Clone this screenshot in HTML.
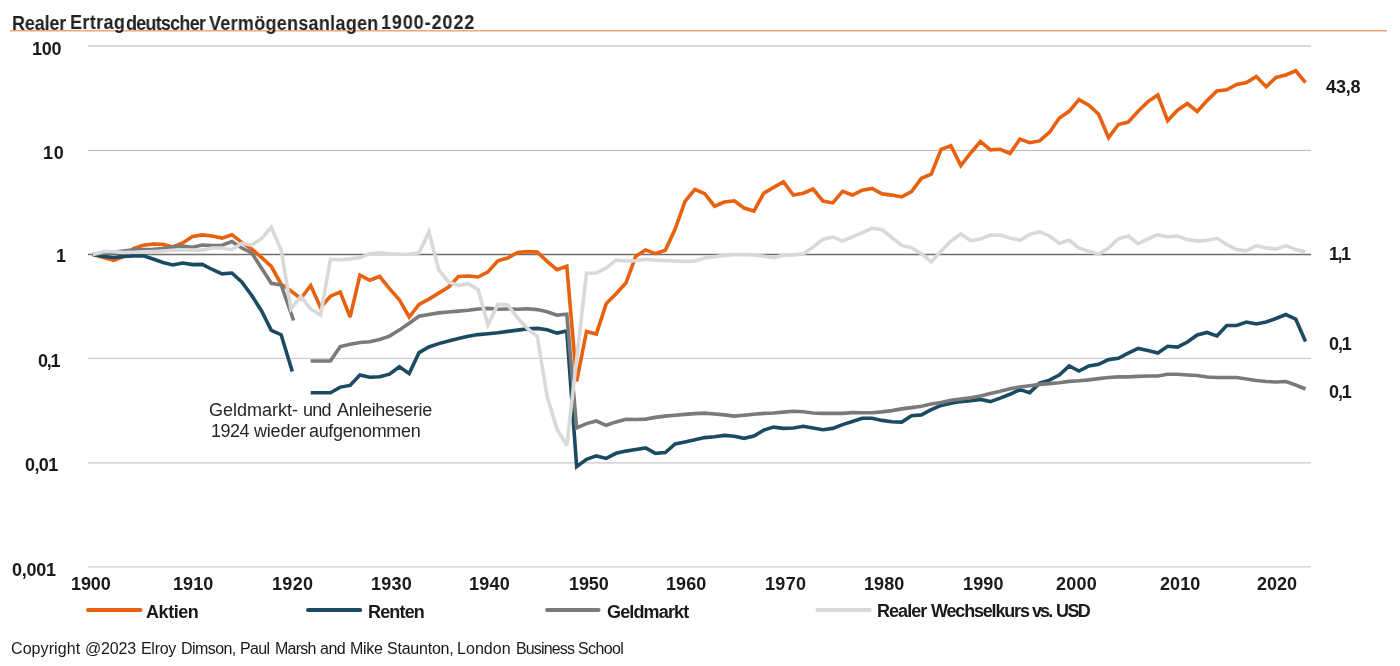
<!DOCTYPE html>
<html><head><meta charset="utf-8">
<style>
html,body{margin:0;padding:0;background:#fff;}
body{width:1400px;height:666px;position:relative;overflow:hidden;font-family:"Liberation Sans",sans-serif;color:#1a1a1a;}
.t{position:absolute;white-space:nowrap;line-height:1;will-change:transform;}
.b{font-weight:bold;}
svg{position:absolute;left:0;top:0;}
</style></head><body>
<svg width="1400" height="666" viewBox="0 0 1400 666">
<line x1="10" y1="30.7" x2="1387" y2="30.7" stroke="#f4a57a" stroke-width="1.4"/>
<line x1="88" y1="46" x2="1311" y2="46" stroke="#d9d9d9" stroke-width="2"/>
<line x1="88" y1="150.4" x2="1311" y2="150.4" stroke="#b8b8b8" stroke-width="1"/>
<line x1="88" y1="254.5" x2="1311" y2="254.5" stroke="#6e6e6e" stroke-width="1.3"/>
<line x1="88" y1="358.4" x2="1311" y2="358.4" stroke="#c4c4c4" stroke-width="1"/>
<line x1="88" y1="462.8" x2="1311" y2="462.8" stroke="#c8c8c8" stroke-width="1.2"/>
<line x1="88" y1="566.8" x2="1311" y2="566.8" stroke="#d0d0d0" stroke-width="1.2"/>

<polyline points="92.80,254.40 103.85,257.50 113.70,260.30 123.55,256.70 133.40,248.50 143.25,245.30 153.10,244.00 162.95,244.40 172.80,247.00 182.65,243.00 192.50,236.50 202.35,234.90 212.20,236.00 222.05,238.10 231.90,234.70 241.75,242.40 251.60,248.90 261.45,257.40 271.30,266.50 281.15,284.10 291.00,291.00 300.85,298.50 310.70,285.50 320.55,307.50 330.40,296.20 340.25,292.20 350.10,317.00 359.95,275.20 369.80,280.30 379.65,276.50 389.50,288.60 399.35,299.70 409.20,317.00 419.05,304.50 428.90,299.10 438.75,293.10 448.60,287.10 458.45,276.50 468.30,276.00 478.15,277.00 488.00,271.90 497.85,260.80 507.70,258.00 517.55,252.50 527.40,251.60 537.25,252.00 547.10,261.40 556.95,269.60 566.80,266.30 576.65,381.40 586.50,331.50 596.35,334.00 606.20,303.60 616.05,293.70 625.90,283.00 635.75,256.30 645.60,249.90 655.45,253.70 665.30,250.20 675.15,229.00 685.00,201.40 694.85,189.40 704.70,193.60 714.55,206.20 724.40,202.00 734.25,200.80 744.10,208.00 753.95,211.00 763.80,193.10 773.65,187.40 783.50,181.80 793.35,195.00 803.20,193.20 813.05,189.00 822.90,201.00 832.75,202.90 842.60,191.40 852.45,195.00 862.30,190.20 872.15,188.40 882.00,193.90 891.85,195.10 901.70,196.90 911.55,191.50 921.40,178.30 931.25,174.10 941.10,149.40 950.95,145.80 960.80,165.60 970.65,153.00 980.50,141.50 990.35,149.90 1000.20,149.30 1010.05,153.50 1019.90,139.10 1029.75,142.70 1039.60,140.90 1049.45,132.40 1059.30,118.00 1069.15,111.30 1079.00,99.60 1088.85,105.20 1098.70,114.20 1108.55,137.70 1118.40,124.50 1128.25,122.10 1138.10,111.20 1147.95,101.60 1157.80,95.00 1167.65,120.70 1177.50,110.20 1187.35,103.60 1197.20,111.50 1207.05,100.60 1216.90,91.00 1226.75,89.80 1236.60,84.40 1246.45,82.60 1256.30,76.60 1266.15,86.80 1276.00,77.40 1285.85,75.00 1295.70,70.80 1305.55,82.70" fill="none" stroke="#e8610e" stroke-width="3.6" stroke-linejoin="miter" stroke-miterlimit="3"/>
<polyline points="92.80,254.40 103.85,256.50 113.70,257.50 123.55,256.40 133.40,256.00 143.25,255.80 153.10,259.00 162.95,262.50 172.80,265.00 182.65,263.00 192.50,264.60 202.35,264.40 212.20,269.50 222.05,273.90 231.90,273.00 241.75,282.00 251.60,295.30 261.45,310.70 271.30,330.40 281.15,334.70 292.3,371.5" fill="none" stroke="#1b4a63" stroke-width="3.6" stroke-linejoin="miter" stroke-miterlimit="3"/>
<polyline points="310.70,392.70 320.55,392.70 330.40,392.70 340.25,387.10 350.10,385.40 359.95,375.10 369.80,377.30 379.65,376.70 389.50,374.20 399.35,366.70 409.20,373.60 419.05,352.60 428.90,347.00 438.75,343.60 448.60,341.00 458.45,338.40 468.30,336.30 478.15,334.60 488.00,333.80 497.85,332.80 507.70,331.40 517.55,330.10 527.40,328.90 537.25,328.40 547.10,329.70 556.95,333.10 566.80,331.00 576.65,466.60 586.50,459.30 596.35,455.90 606.20,458.40 616.05,453.30 625.90,451.10 635.75,449.50 645.60,447.90 655.45,453.40 665.30,452.60 675.15,444.00 685.00,441.90 694.85,439.70 704.70,437.60 714.55,436.70 724.40,435.40 734.25,436.30 744.10,438.30 753.95,436.10 763.80,430.10 773.65,427.10 783.50,428.40 793.35,428.00 803.20,426.30 813.05,428.00 822.90,429.70 832.75,428.40 842.60,424.60 852.45,421.50 862.30,418.30 872.15,418.30 882.00,420.40 891.85,421.70 901.70,422.10 911.55,415.70 921.40,414.90 931.25,409.70 941.10,405.40 950.95,403.30 960.80,401.60 970.65,400.70 980.50,399.40 990.35,401.60 1000.20,398.10 1010.05,394.30 1019.90,389.60 1029.75,392.60 1039.60,383.10 1049.45,380.10 1059.30,375.00 1069.15,366.00 1079.00,371.00 1088.85,366.00 1098.70,364.30 1108.55,359.60 1118.40,358.30 1128.25,353.10 1138.10,348.40 1147.95,350.60 1157.80,353.10 1167.65,346.30 1177.50,347.10 1187.35,342.00 1197.20,335.00 1207.05,332.50 1216.90,336.00 1226.75,325.50 1236.60,325.50 1246.45,322.00 1256.30,324.00 1266.15,322.00 1276.00,318.50 1285.85,314.50 1295.70,319.00 1305.55,341.50" fill="none" stroke="#1b4a63" stroke-width="3.6" stroke-linejoin="miter" stroke-miterlimit="3"/>
<polyline points="92.80,254.40 103.85,253.00 113.70,252.00 123.55,251.00 133.40,249.80 143.25,249.50 153.10,249.20 162.95,248.50 172.80,247.00 182.65,246.00 192.50,247.20 202.35,245.00 212.20,245.50 222.05,245.30 231.90,241.60 241.75,248.00 251.60,252.70 261.45,268.00 271.30,283.30 281.15,285.00 293.6,320.5" fill="none" stroke="#7a7a7a" stroke-width="3.6" stroke-linejoin="miter" stroke-miterlimit="3"/>
<polyline points="310.70,361.00 320.55,361.00 330.40,361.00 340.25,346.50 350.10,344.20 359.95,342.50 369.80,341.80 379.65,339.50 389.50,336.10 399.35,330.10 409.20,323.20 419.05,316.30 428.90,314.60 438.75,312.90 448.60,312.00 458.45,311.10 468.30,310.30 478.15,309.00 488.00,308.40 497.85,309.20 507.70,309.00 517.55,309.20 527.40,308.70 537.25,309.60 547.10,311.70 556.95,315.10 566.80,314.30 576.65,427.90 586.50,423.60 596.35,421.00 606.20,425.30 616.05,421.90 625.90,419.30 635.75,419.50 645.60,419.10 655.45,417.40 665.30,416.10 675.15,415.30 685.00,414.40 694.85,413.60 704.70,413.10 714.55,414.00 724.40,414.90 734.25,416.10 744.10,415.20 753.95,414.30 763.80,413.40 773.65,413.00 783.50,412.10 793.35,411.30 803.20,411.70 813.05,413.00 822.90,413.40 832.75,413.40 842.60,413.40 852.45,412.60 862.30,412.70 872.15,412.70 882.00,411.90 891.85,410.60 901.70,408.90 911.55,407.60 921.40,406.30 931.25,404.10 941.10,402.40 950.95,400.30 960.80,399.00 970.65,397.70 980.50,396.00 990.35,393.40 1000.20,391.30 1010.05,388.70 1019.90,387.00 1029.75,385.70 1039.60,384.40 1049.45,383.60 1059.30,382.70 1069.15,381.40 1079.00,380.80 1088.85,379.90 1098.70,378.60 1108.55,377.50 1118.40,376.90 1128.25,376.90 1138.10,376.40 1147.95,376.00 1157.80,376.00 1167.65,374.30 1177.50,374.30 1187.35,375.00 1197.20,375.50 1207.05,377.00 1216.90,377.50 1226.75,377.50 1236.60,377.50 1246.45,379.00 1256.30,380.50 1266.15,381.50 1276.00,382.00 1285.85,381.50 1295.70,385.00 1305.55,389.00" fill="none" stroke="#7a7a7a" stroke-width="3.6" stroke-linejoin="miter" stroke-miterlimit="3"/>
<polyline points="92.80,254.40 103.85,251.50 113.70,251.50 123.55,252.50 133.40,252.20 143.25,251.80 153.10,251.50 162.95,251.00 172.80,250.30 182.65,249.70 192.50,250.10 202.35,250.10 212.20,248.00 222.05,248.00 231.90,249.70 241.75,243.30 251.60,245.00 261.45,238.60 271.30,227.40 281.15,250.00 291.00,309.00 300.85,296.50 310.70,309.00 320.55,315.00 330.40,259.30 340.25,259.70 350.10,258.90 359.95,257.60 369.80,253.70 379.65,252.90 389.50,253.70 399.35,254.30 409.20,254.00 419.05,252.90 428.90,231.90 438.75,270.00 448.60,282.00 458.45,285.40 468.30,283.70 478.15,289.70 488.00,325.00 497.85,304.40 507.70,304.80 517.55,317.80 527.40,328.40 537.25,336.50 547.10,396.20 556.95,429.00 566.80,445.50 576.65,359.00 586.50,273.20 596.35,273.00 606.20,267.90 616.05,260.10 625.90,261.00 635.75,260.60 645.60,259.30 655.45,260.10 665.30,260.60 675.15,261.00 685.00,261.40 694.85,261.00 704.70,258.00 714.55,256.70 724.40,255.40 734.25,254.60 744.10,254.60 753.95,255.00 763.80,256.30 773.65,257.60 783.50,255.20 793.35,254.90 803.20,254.00 813.05,247.10 822.90,239.40 832.75,236.90 842.60,241.10 852.45,236.90 862.30,232.60 872.15,228.30 882.00,229.60 891.85,237.50 901.70,245.40 911.55,247.60 921.40,253.60 931.25,261.70 941.10,251.00 950.95,241.10 960.80,233.90 970.65,240.70 980.50,239.00 990.35,235.10 1000.20,235.10 1010.05,237.90 1019.90,240.30 1029.75,234.30 1039.60,231.70 1049.45,236.00 1059.30,243.30 1069.15,240.30 1079.00,248.00 1088.85,251.40 1098.70,254.00 1108.55,248.00 1118.40,238.80 1128.25,236.00 1138.10,243.70 1147.95,239.00 1157.80,234.70 1167.65,236.90 1177.50,236.00 1187.35,239.40 1197.20,241.10 1207.05,240.20 1216.90,238.30 1226.75,244.50 1236.60,249.60 1246.45,250.90 1256.30,245.70 1266.15,247.90 1276.00,249.10 1285.85,245.70 1295.70,249.60 1305.55,251.70" fill="none" stroke="#d9d9d9" stroke-width="3.6" stroke-linejoin="miter" stroke-miterlimit="3"/>

<line x1="88" y1="610" x2="140.5" y2="610" stroke="#e8610e" stroke-width="4" stroke-linecap="round"/>
<line x1="308" y1="610" x2="360.3" y2="610" stroke="#1b4a63" stroke-width="4" stroke-linecap="round"/>
<line x1="547" y1="610" x2="598.6" y2="610" stroke="#7a7a7a" stroke-width="4" stroke-linecap="round"/>
<line x1="817.4" y1="610" x2="869.8" y2="610" stroke="#d9d9d9" stroke-width="4" stroke-linecap="round"/>
</svg>
<div class="t" style="left:11.90px;top:13.20px;font-size:20px;font-weight:bold;letter-spacing:-0.178px;transform:scaleX(0.9000);transform-origin:0 0;color:#222">Realer</div>
<div class="t" style="left:70.00px;top:12.20px;font-size:20px;font-weight:bold;letter-spacing:0.400px;transform:scaleX(0.9000);transform-origin:0 0;color:#222">Ertrag</div>
<div class="t" style="left:126.20px;top:13.20px;font-size:20px;font-weight:bold;letter-spacing:-0.861px;transform:scaleX(0.9000);transform-origin:0 0;color:#222">deutscher</div>
<div class="t" style="left:209.00px;top:13.20px;font-size:20px;font-weight:bold;letter-spacing:0.311px;transform:scaleX(0.9000);transform-origin:0 0;color:#222">Vermögensanlagen</div>
<div class="t" style="left:381.10px;top:12.20px;font-size:20px;font-weight:bold;letter-spacing:1.000px;transform:scaleX(0.9000);transform-origin:0 0;color:#222">1900-2022</div>
<div class="t" style="left:32.00px;top:40.00px;font-size:18px;font-weight:bold;letter-spacing:-0.200px;color:#1a1a1a">100</div>
<div class="t" style="left:43.20px;top:143.80px;font-size:18px;font-weight:bold;letter-spacing:0.800px;color:#1a1a1a">10</div>
<div class="t" style="left:56.20px;top:247.20px;font-size:18px;font-weight:bold;letter-spacing:0.000px;color:#1a1a1a">1</div>
<div class="t" style="left:37.80px;top:351.70px;font-size:18px;font-weight:bold;letter-spacing:-1.300px;color:#1a1a1a">0,1</div>
<div class="t" style="left:25.30px;top:456.10px;font-size:18px;font-weight:bold;letter-spacing:-0.600px;color:#1a1a1a">0,01</div>
<div class="t" style="left:12.00px;top:561.00px;font-size:18px;font-weight:bold;letter-spacing:-0.250px;color:#1a1a1a">0,001</div>
<div class="t" style="left:70.50px;top:575.00px;font-size:18px;font-weight:bold;letter-spacing:-0.133px;color:#1a1a1a">1900</div>
<div class="t" style="left:173.20px;top:575.00px;font-size:18px;font-weight:bold;letter-spacing:0.067px;color:#1a1a1a">1910</div>
<div class="t" style="left:272.00px;top:575.00px;font-size:18px;font-weight:bold;letter-spacing:0.333px;color:#1a1a1a">1920</div>
<div class="t" style="left:370.80px;top:575.00px;font-size:18px;font-weight:bold;letter-spacing:0.200px;color:#1a1a1a">1930</div>
<div class="t" style="left:469.00px;top:575.00px;font-size:18px;font-weight:bold;letter-spacing:0.200px;color:#1a1a1a">1940</div>
<div class="t" style="left:568.80px;top:575.00px;font-size:18px;font-weight:bold;letter-spacing:-0.133px;color:#1a1a1a">1950</div>
<div class="t" style="left:666.00px;top:575.00px;font-size:18px;font-weight:bold;letter-spacing:0.067px;color:#1a1a1a">1960</div>
<div class="t" style="left:764.90px;top:575.00px;font-size:18px;font-weight:bold;letter-spacing:0.333px;color:#1a1a1a">1970</div>
<div class="t" style="left:863.90px;top:575.00px;font-size:18px;font-weight:bold;letter-spacing:0.067px;color:#1a1a1a">1980</div>
<div class="t" style="left:962.50px;top:575.00px;font-size:18px;font-weight:bold;letter-spacing:0.133px;color:#1a1a1a">1990</div>
<div class="t" style="left:1055.90px;top:575.00px;font-size:18px;font-weight:bold;letter-spacing:0.200px;color:#1a1a1a">2000</div>
<div class="t" style="left:1159.80px;top:575.00px;font-size:18px;font-weight:bold;letter-spacing:0.067px;color:#1a1a1a">2010</div>
<div class="t" style="left:1257.20px;top:575.00px;font-size:18px;font-weight:bold;letter-spacing:0.000px;color:#1a1a1a">2020</div>
<div class="t" style="left:1325.70px;top:77.60px;font-size:18px;font-weight:bold;letter-spacing:-0.133px;color:#1a1a1a">43,8</div>
<div class="t" style="left:1329.25px;top:245.20px;font-size:18px;font-weight:bold;letter-spacing:-1.550px;color:#1a1a1a">1,1</div>
<div class="t" style="left:1329.10px;top:335.20px;font-size:18px;font-weight:bold;letter-spacing:-1.100px;color:#1a1a1a">0,1</div>
<div class="t" style="left:1329.10px;top:382.90px;font-size:18px;font-weight:bold;letter-spacing:-1.100px;color:#1a1a1a">0,1</div>
<div class="t" style="left:146.10px;top:603.30px;font-size:18px;font-weight:bold;letter-spacing:-0.440px;color:#1a1a1a">Aktien</div>
<div class="t" style="left:368.20px;top:603.00px;font-size:18px;font-weight:bold;letter-spacing:-0.840px;color:#1a1a1a">Renten</div>
<div class="t" style="left:606.50px;top:602.60px;font-size:18px;font-weight:bold;letter-spacing:-0.850px;color:#1a1a1a">Geldmarkt</div>
<div class="t" style="left:876.80px;top:602.25px;font-size:18px;font-weight:bold;letter-spacing:-0.960px;color:#1a1a1a">Realer</div>
<div class="t" style="left:930.60px;top:602.25px;font-size:18px;font-weight:bold;letter-spacing:-1.180px;color:#1a1a1a">Wechselkurs</div>
<div class="t" style="left:1031.60px;top:601.80px;font-size:18px;font-weight:bold;letter-spacing:-1.900px;color:#1a1a1a">vs.</div>
<div class="t" style="left:1055.50px;top:602.25px;font-size:18px;font-weight:bold;letter-spacing:-1.600px;color:#1a1a1a">USD</div>
<div class="t" style="left:209.10px;top:400.90px;font-size:18px;font-weight:normal;letter-spacing:0.000px;color:#262626">Geldmarkt-</div>
<div class="t" style="left:303.20px;top:400.90px;font-size:18px;font-weight:normal;letter-spacing:-0.800px;color:#262626">und</div>
<div class="t" style="left:337.10px;top:400.90px;font-size:18px;font-weight:normal;letter-spacing:-0.345px;color:#262626">Anleiheserie</div>
<div class="t" style="left:211.00px;top:422.10px;font-size:18px;font-weight:normal;letter-spacing:-0.533px;color:#262626">1924</div>
<div class="t" style="left:254.00px;top:422.10px;font-size:18px;font-weight:normal;letter-spacing:-0.200px;color:#262626">wieder</div>
<div class="t" style="left:309.00px;top:422.10px;font-size:18px;font-weight:normal;letter-spacing:-0.340px;color:#262626">aufgenommen</div>
<div class="t" style="left:11.30px;top:641.10px;font-size:16px;font-weight:normal;letter-spacing:0.075px;color:#1a1a1a">Copyright</div>
<div class="t" style="left:84.90px;top:641.10px;font-size:16px;font-weight:normal;letter-spacing:-0.200px;color:#1a1a1a">@2023</div>
<div class="t" style="left:140.90px;top:641.10px;font-size:16px;font-weight:normal;letter-spacing:-0.300px;color:#1a1a1a">Elroy</div>
<div class="t" style="left:180.90px;top:641.10px;font-size:16px;font-weight:normal;letter-spacing:-0.567px;color:#1a1a1a">Dimson,</div>
<div class="t" style="left:239.70px;top:641.10px;font-size:16px;font-weight:normal;letter-spacing:-0.667px;color:#1a1a1a">Paul</div>
<div class="t" style="left:275.00px;top:641.10px;font-size:16px;font-weight:normal;letter-spacing:-0.750px;color:#1a1a1a">Marsh</div>
<div class="t" style="left:320.00px;top:641.10px;font-size:16px;font-weight:normal;letter-spacing:-0.500px;color:#1a1a1a">and</div>
<div class="t" style="left:350.00px;top:641.10px;font-size:16px;font-weight:normal;letter-spacing:-0.333px;color:#1a1a1a">Mike</div>
<div class="t" style="left:386.50px;top:641.10px;font-size:16px;font-weight:normal;letter-spacing:-0.225px;color:#1a1a1a">Staunton,</div>
<div class="t" style="left:457.10px;top:641.10px;font-size:16px;font-weight:normal;letter-spacing:0.040px;color:#1a1a1a">London</div>
<div class="t" style="left:515.50px;top:641.10px;font-size:16px;font-weight:normal;letter-spacing:-0.857px;color:#1a1a1a">Business</div>
<div class="t" style="left:578.00px;top:641.10px;font-size:16px;font-weight:normal;letter-spacing:-0.600px;color:#1a1a1a">School</div>

</body></html>
